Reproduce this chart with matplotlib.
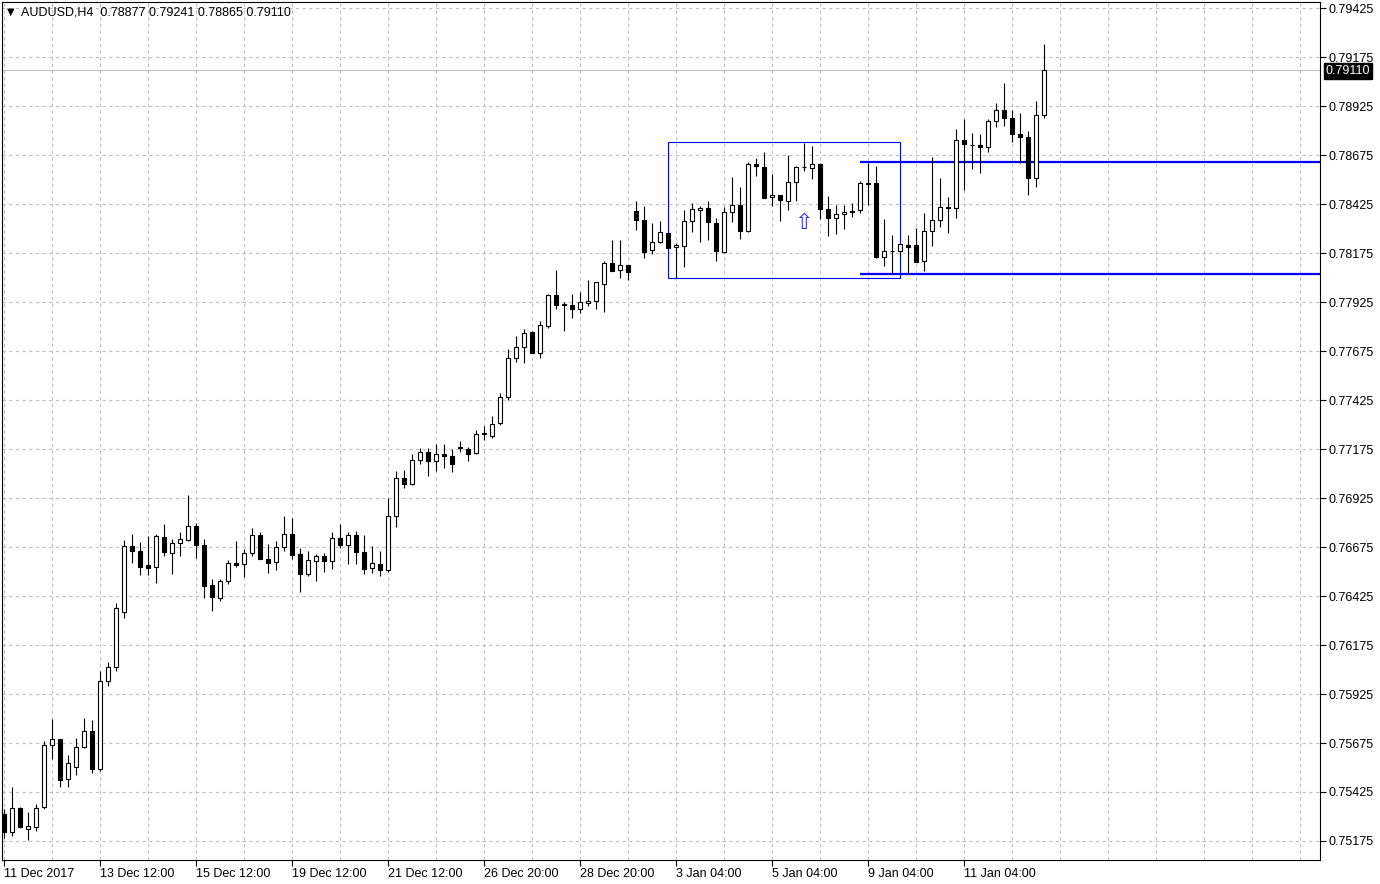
import matplotlib
matplotlib.use("Agg")
import matplotlib.pyplot as plt
from matplotlib.patches import Rectangle
import numpy as np

plt.rcParams["font.family"] = ["Liberation Sans", "DejaVu Sans"]

# AUDUSD H4 candles
opens = [0.75313, 0.75222, 0.75342, 0.75235, 0.75248, 0.75347, 0.75663, 0.75694, 0.75490, 0.75551,
         0.75653, 0.75735, 0.75544, 0.75990, 0.76061, 0.76345, 0.76679, 0.76653, 0.76582, 0.76572,
         0.76725, 0.76644, 0.76694, 0.76709, 0.76781, 0.76684, 0.76480, 0.76413, 0.76500, 0.76592,
         0.76587, 0.76643, 0.76735, 0.76612, 0.76597, 0.76674, 0.76740, 0.76638, 0.76539, 0.76602,
         0.76627, 0.76602, 0.76719, 0.76684, 0.76735, 0.76648, 0.76567, 0.76587, 0.76556, 0.76832,
         0.77026, 0.76998, 0.77117, 0.77158, 0.77112, 0.77148, 0.77138, 0.77184, 0.77173, 0.77153,
         0.77255, 0.77240, 0.77306, 0.77439, 0.77638, 0.77694, 0.77770, 0.77663, 0.77804, 0.77959,
         0.77915, 0.77908, 0.77888, 0.77918, 0.77929, 0.78018, 0.78122, 0.78087, 0.78112, 0.78389,
         0.78343, 0.78189, 0.78230, 0.78276, 0.78204, 0.78213, 0.78338, 0.78393, 0.78403, 0.78327,
         0.78179, 0.78384, 0.78419, 0.78287, 0.78629, 0.78612, 0.78459, 0.78469, 0.78439, 0.78536,
         0.78612, 0.78607, 0.78628, 0.78398, 0.78352, 0.78372, 0.78389, 0.78393, 0.78530, 0.78531,
         0.78157, 0.78187, 0.78184, 0.78214, 0.78216, 0.78133, 0.78286, 0.78342, 0.78408, 0.78403,
         0.78750, 0.78725, 0.78725, 0.78714, 0.78847, 0.78903, 0.78862, 0.78781, 0.78766, 0.78556,
         0.78877]
highs = [0.75338, 0.75451, 0.75349, 0.75321, 0.75362, 0.75685, 0.75798, 0.75696, 0.75612, 0.75699,
         0.75801, 0.75791, 0.76042, 0.76088, 0.76388, 0.76711, 0.76741, 0.76699, 0.76730, 0.76741,
         0.76792, 0.76714, 0.76750, 0.76940, 0.76796, 0.76714, 0.76512, 0.76510, 0.76609, 0.76706,
         0.76665, 0.76772, 0.76752, 0.76690, 0.76706, 0.76835, 0.76825, 0.76668, 0.76655, 0.76639,
         0.76643, 0.76752, 0.76792, 0.76752, 0.76757, 0.76735, 0.76679, 0.76655, 0.76924, 0.77061,
         0.77068, 0.77148, 0.77180, 0.77180, 0.77199, 0.77200, 0.77175, 0.77216, 0.77184, 0.77272,
         0.77291, 0.77342, 0.77461, 0.77684, 0.77752, 0.77787, 0.77775, 0.77830, 0.77964, 0.78088,
         0.77927, 0.77964, 0.77975, 0.78037, 0.78028, 0.78134, 0.78241, 0.78241, 0.78114, 0.78440,
         0.78413, 0.78327, 0.78338, 0.78279, 0.78225, 0.78394, 0.78430, 0.78415, 0.78440, 0.78352,
         0.78408, 0.78563, 0.78512, 0.78639, 0.78658, 0.78689, 0.78577, 0.78471, 0.78675, 0.78617,
         0.78738, 0.78722, 0.78633, 0.78464, 0.78419, 0.78419, 0.78429, 0.78541, 0.78637, 0.78619,
         0.78349, 0.78267, 0.78226, 0.78267, 0.78301, 0.78381, 0.78666, 0.78558, 0.78462, 0.78808,
         0.78859, 0.78786, 0.78781, 0.78857, 0.78939, 0.79041, 0.78903, 0.78888, 0.78796, 0.78949,
         0.79241]
lows = [0.75190, 0.75202, 0.75243, 0.75180, 0.75228, 0.75340, 0.75593, 0.75451, 0.75451, 0.75512,
        0.75650, 0.75524, 0.75534, 0.75967, 0.76044, 0.76313, 0.76595, 0.76534, 0.76534, 0.76493,
        0.76631, 0.76539, 0.76631, 0.76706, 0.76620, 0.76413, 0.76350, 0.76398, 0.76485, 0.76575,
        0.76524, 0.76630, 0.76612, 0.76544, 0.76558, 0.76656, 0.76615, 0.76447, 0.76529, 0.76503,
        0.76549, 0.76565, 0.76668, 0.76590, 0.76590, 0.76539, 0.76544, 0.76529, 0.76547, 0.76776,
        0.76978, 0.76991, 0.77100, 0.77039, 0.77064, 0.77080, 0.77059, 0.77160, 0.77115, 0.77150,
        0.77219, 0.77230, 0.77299, 0.77423, 0.77617, 0.77615, 0.77664, 0.77638, 0.77791, 0.77888,
        0.77779, 0.77845, 0.77870, 0.77906, 0.77891, 0.77876, 0.78083, 0.78049, 0.78039, 0.78295,
        0.78148, 0.78168, 0.78225, 0.78200, 0.78046, 0.78105, 0.78284, 0.78233, 0.78240, 0.78136,
        0.78174, 0.78333, 0.78245, 0.78282, 0.78566, 0.78454, 0.78415, 0.78340, 0.78393, 0.78439,
        0.78592, 0.78551, 0.78347, 0.78260, 0.78270, 0.78299, 0.78358, 0.78378, 0.78420, 0.78151,
        0.78110, 0.78073, 0.78160, 0.78071, 0.78127, 0.78085, 0.78211, 0.78309, 0.78279, 0.78355,
        0.78496, 0.78605, 0.78585, 0.78692, 0.78820, 0.78825, 0.78743, 0.78633, 0.78472, 0.78514,
        0.78865]
closes = [0.75221, 0.75342, 0.75248, 0.75251, 0.75342, 0.75663, 0.75694, 0.75488, 0.75571, 0.75653,
          0.75735, 0.75544, 0.75990, 0.76061, 0.76362, 0.76679, 0.76653, 0.76575, 0.76569, 0.76730,
          0.76648, 0.76694, 0.76714, 0.76781, 0.76684, 0.76478, 0.76421, 0.76500, 0.76592, 0.76585,
          0.76644, 0.76735, 0.76615, 0.76595, 0.76674, 0.76740, 0.76636, 0.76539, 0.76607, 0.76627,
          0.76602, 0.76719, 0.76684, 0.76735, 0.76648, 0.76565, 0.76592, 0.76556, 0.76832, 0.77026,
          0.76995, 0.77117, 0.77158, 0.77112, 0.77148, 0.77138, 0.77100, 0.77178, 0.77151, 0.77250,
          0.77250, 0.77301, 0.77439, 0.77638, 0.77694, 0.77765, 0.77666, 0.77806, 0.77959, 0.77911,
          0.77908, 0.77888, 0.77924, 0.77929, 0.78026, 0.78122, 0.78085, 0.78112, 0.78076, 0.78342,
          0.78182, 0.78230, 0.78281, 0.78202, 0.78214, 0.78338, 0.78398, 0.78405, 0.78332, 0.78184,
          0.78384, 0.78419, 0.78287, 0.78628, 0.78619, 0.78457, 0.78469, 0.78444, 0.78536, 0.78612,
          0.78614, 0.78628, 0.78398, 0.78352, 0.78372, 0.78383, 0.78383, 0.78531, 0.78529, 0.78156,
          0.78188, 0.78186, 0.78220, 0.78207, 0.78130, 0.78286, 0.78342, 0.78408, 0.78407, 0.78750,
          0.78730, 0.78724, 0.78714, 0.78847, 0.78903, 0.78862, 0.78781, 0.78766, 0.78556, 0.78877,
          0.79110]

date_labels = ["11 Dec 2017", "13 Dec 12:00", "15 Dec 12:00", "19 Dec 12:00", "21 Dec 12:00",
               "26 Dec 20:00", "28 Dec 20:00", "3 Jan 04:00", "5 Jan 04:00", "9 Jan 04:00",
               "11 Jan 04:00"]
label_step = 12
price_ticks = [0.75175 + 0.0025 * k for k in range(18)]

# drawn objects on the chart
box_left, box_right = 83, 112
box_bottom, box_top = 0.78046, 0.78740
level_start = 107
levels = [0.78640, 0.78068]
arrow_bar, arrow_price = 100, 0.78299

x = np.arange(len(opens))
o = np.array(opens)
c = np.array(closes)
up = c >= o

fig = plt.figure(figsize=(13.8, 8.84), dpi=100)
ax = fig.add_axes([2 / 1380, 24 / 884, 1318 / 1380, 858 / 884])
xmax = 164.56
ax.set_xlim(-0.19, xmax)
ax.set_ylim(0.75078, 0.79456)

ax.add_patch(Rectangle((box_left, box_bottom), box_right - box_left, box_top - box_bottom,
                       fill=False, edgecolor="#0000ff", lw=0.8, zorder=2))
ax.hlines(levels, level_start, xmax, color="#0000ff", lw=1.6, zorder=2)

ax.vlines(x, lows, highs, color="black", lw=0.8, zorder=3)
ax.bar(x[up], (c - o)[up], bottom=o[up], width=0.5, color="white",
       edgecolor="black", linewidth=0.8, zorder=4)
ax.bar(x[~up], (o - c)[~up], bottom=c[~up], width=0.5, color="black",
       edgecolor="black", linewidth=0.8, zorder=4)

ax.axhline(closes[-1], color="#c0c0c0", lw=0.8, zorder=1)

ax.text(arrow_bar, arrow_price, "\u21e7", ha="center", va="baseline", fontsize=16,
        color="#3030ff", family="DejaVu Sans", zorder=6)

# axes styling
ax.yaxis.tick_right()
ax.set_yticks(price_ticks)
ax.set_yticklabels([f"{p:.5f}" for p in price_ticks], fontsize=9)
ax.set_xticks(range(0, label_step * len(date_labels), label_step))
ax.set_xticklabels(date_labels, fontsize=9, ha="left")
ax.set_xticks(range(6, 165, 6), minor=True)
ax.tick_params(axis="both", which="major", length=4, width=0.8, pad=2)
ax.tick_params(axis="x", which="minor", length=0)
ax.grid(True, which="both", color="#c0c0c0", linestyle=(0, (3, 3)), lw=0.8)
ax.set_axisbelow(True)
for s in ax.spines.values():
    s.set_linewidth(0.8)

ax.annotate(f"{closes[-1]:.5f}", xy=(1, closes[-1]), xycoords=("axes fraction", "data"),
            xytext=(4, -1), textcoords="offset points", ha="left", va="center",
            fontsize=9, color="white",
            bbox=dict(boxstyle="square,pad=0.15", fc="black", ec="black"))

ax.text(0.004, 0.994, "\u25bc", transform=ax.transAxes, ha="left", va="top",
        fontsize=7, family="DejaVu Sans")
ax.text(0.0145, 0.995,
        f"AUDUSD,H4  {opens[-1]:.5f} {highs[-1]:.5f} {lows[-1]:.5f} {closes[-1]:.5f}",
        transform=ax.transAxes, ha="left", va="top", fontsize=9)

fig.savefig("out.png", dpi=100)
